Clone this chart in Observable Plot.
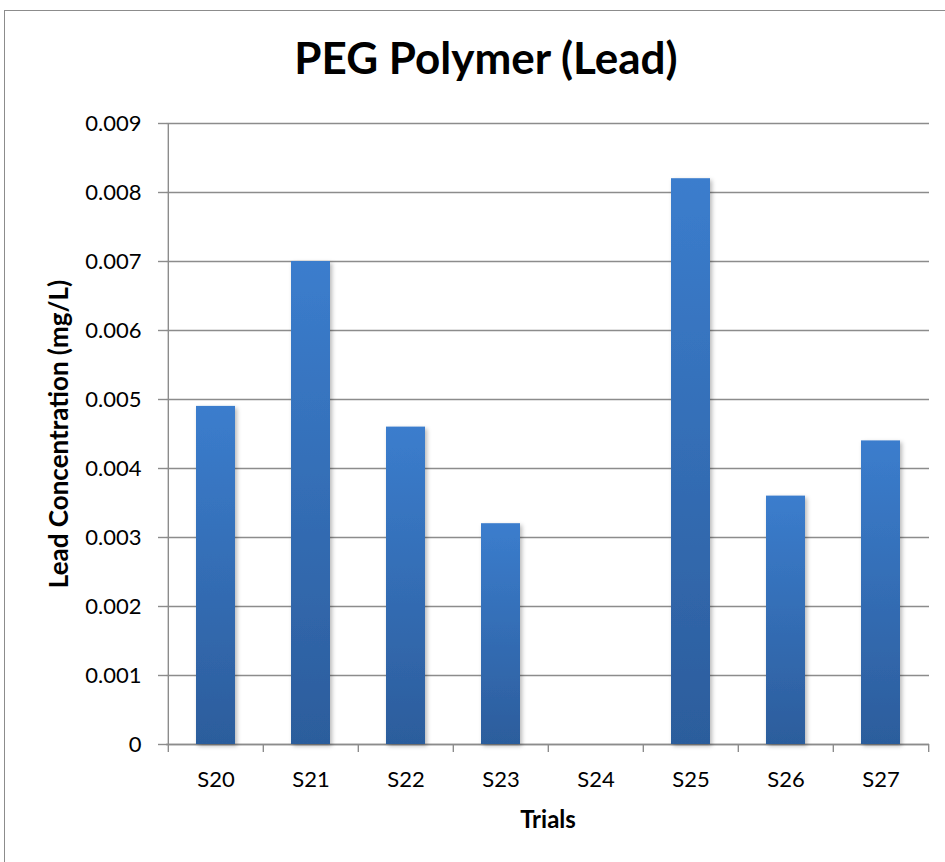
<!DOCTYPE html>
<html>
<head>
<meta charset="utf-8">
<script src="https://cdn.jsdelivr.net/npm/d3@7"></script>
<script src="https://cdn.jsdelivr.net/npm/@observablehq/plot@0.6"></script>
<style>
html, body { margin: 0; padding: 0; background: #fff; overflow: hidden; }
#wrap { position: relative; width: 945px; height: 862px; overflow: hidden; }
#frame { position: absolute; left: 4px; top: 10px; width: 980px; height: 940px; border: 1px solid #8c8c8c; box-sizing: border-box; pointer-events: none; }
#chart { position: absolute; left: 0; top: 0; }
</style>
</head>
<body>
<div id="wrap"><div id="frame"></div><div id="chart"></div></div>
<script>
const chartTitle = "PEG Polymer (Lead)";
const xTitle = "Trials";
const yTitle = "Lead Concentration (mg/L)";
const categories = ["S20", "S21", "S22", "S23", "S24", "S25", "S26", "S27"];
const values = [0.0049, 0.0070, 0.0046, 0.0032, 0, 0.0082, 0.0036, 0.0044];
const yTicks = [0, 0.001, 0.002, 0.003, 0.004, 0.005, 0.006, 0.007, 0.008, 0.009];
const yTickLabels = ["0", "0.001", "0.002", "0.003", "0.004", "0.005", "0.006", "0.007", "0.008", "0.009"];

const data = categories.map((c, i) => ({trial: c, value: values[i]}));

const W = 945, H = 862, mL = 166, mR = 16, mT = 123, mB = 118;
const step = (W - mL - mR) / categories.length;
const gridColor = "#8c8c8c";

const chart = Plot.plot({
  width: W, height: H,
  marginLeft: mL, marginRight: mR, marginTop: mT, marginBottom: mB,
  style: {fontFamily: "Lato, 'Open Sans', sans-serif", fontSize: "22px", color: "#000", background: "transparent", overflow: "visible"},
  x: {domain: categories, paddingInner: 0.59, paddingOuter: 0.295, label: null},
  y: {domain: [0, 0.009], label: null},
  marks: [
    Plot.ruleY(yTicks, {stroke: gridColor, strokeWidth: 1.4}),
    Plot.axisY({ticks: yTicks, tickSize: 8, tickPadding: 17, stroke: gridColor, strokeWidth: 1.4,
      tickFormat: d => yTickLabels[yTicks.indexOf(d)], label: null, fontSize: 22}),
    Plot.ruleX([categories[0]], {dx: -step / 2, y1: 0, y2: 0.009, stroke: gridColor, strokeWidth: 1.4}),
    Plot.ruleX(categories, {x: d => d, dx: -step / 2, y1: 0, y2: 0, insetBottom: -8, stroke: gridColor, strokeWidth: 1.4}),
    Plot.ruleX([categories[categories.length - 1]], {dx: step / 2, y1: 0, y2: 0, insetBottom: -8, stroke: gridColor, strokeWidth: 1.4}),
    Plot.ruleY([0], {stroke: gridColor, strokeWidth: 1.4}),
    Plot.barY(data, {x: "trial", y: "value", fill: "url(#barGrad)"}),
    Plot.axisX({tickSize: 0, tickPadding: 27, label: null, fontSize: 22}),
    Plot.text([chartTitle], {frameAnchor: "top", lineAnchor: "middle", dx: -62, dy: -64, fontSize: 44, fontWeight: "bold"}),
    Plot.text([xTitle], {frameAnchor: "bottom", lineAnchor: "middle", dy: 76, fontSize: 24, fontWeight: "bold"}),
    Plot.text([yTitle], {frameAnchor: "left", textAnchor: "middle", lineAnchor: "middle", rotate: -90, dx: -107, dy: 0, fontSize: 26, fontWeight: "bold"})
  ]
});

const svg = d3.select(chart);
const defs = svg.insert("defs", ":first-child");
const grad = defs.append("linearGradient").attr("id", "barGrad").attr("x1", 0).attr("y1", 0).attr("x2", 0).attr("y2", 1);
grad.append("stop").attr("offset", "0%").attr("stop-color", "#3b7dcd");
grad.append("stop").attr("offset", "100%").attr("stop-color", "#2c5d9c");
const filt = defs.append("filter").attr("id", "barShadow").attr("x", "-20%").attr("y", "-5%").attr("width", "150%").attr("height", "115%");
filt.append("feDropShadow").attr("dx", 2).attr("dy", 2).attr("stdDeviation", 2).attr("flood-color", "#000").attr("flood-opacity", 0.28);
svg.select('g[aria-label="bar"]').attr("filter", "url(#barShadow)");

document.getElementById("chart").appendChild(chart);
</script>
</body>
</html>
